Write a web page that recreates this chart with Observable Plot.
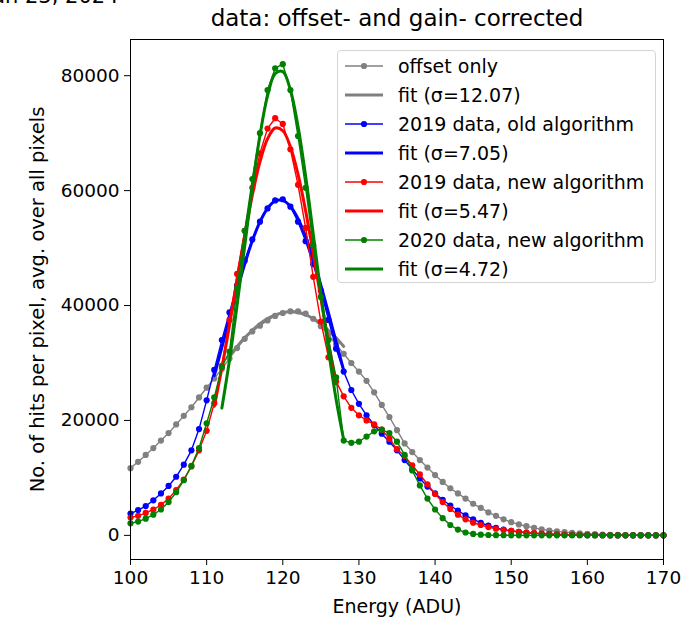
<!DOCTYPE html>
<html><head><meta charset="utf-8">
<script src="https://cdn.jsdelivr.net/npm/d3@7"></script>
<script src="https://cdn.jsdelivr.net/npm/@observablehq/plot@0.6"></script>
<style>
body{margin:0;background:#fff;}
#wrap{position:relative;width:697px;height:621px;overflow:hidden;font-family:"DejaVu Sans",sans-serif;}
#legend{position:absolute;left:337px;top:50px;width:319px;height:233px;box-sizing:border-box;border:1px solid #d5d5d5;border-radius:4px;background:rgba(255,255,255,0.8);}
.row{display:flex;align-items:center;height:29px;}
.row svg{margin-left:7px;flex:none;}
.row span{margin-left:15px;font-size:19px;color:#000;white-space:nowrap;}
</style></head><body><div id="wrap"></div>
<script>
const energy = [100,101,102,103,104,105,106,107,108,109,110,111,112,113,114,115,116,117,118,119,120,121,122,123,124,125,126,127,128,129,130,131,132,133,134,135,136,137,138,139,140,141,142,143,144,145,146,147,148,149,150,151,152,153,154,155,156,157,158,159,160,161,162,163,164,165,166,167,168,169,170];

const offsetOnly = [11700,12800,14000,15200,16500,17800,19300,20800,22300,24000,25700,27300,29000,30800,32600,34200,35500,36500,37400,38200,38700,39000,39000,38600,37700,36400,34900,33200,31600,30000,28500,26900,24900,22700,20600,18300,16000,14500,13100,11800,10500,9300,8200,7300,6400,5500,4800,4000,3400,2800,2300,1900,1600,1300,1050,850,700,560,450,350,270,200,150,110,80,60,40,30,20,10,10];

const old2019 = [3800,4400,5100,6100,7300,8600,10200,12300,14800,18500,23500,28800,34000,38800,43500,47800,51500,54600,56900,58300,58500,57200,54600,51200,47200,42600,37500,32500,28500,25300,22900,20900,19200,17700,16300,14800,13100,11500,9900,8500,7300,6200,5200,4300,3500,2800,2200,1700,1300,1000,780,600,460,350,270,200,150,110,80,60,40,30,20,10,10,0,0,0,0,0,0];

const new2019 = [3100,3400,3900,4500,5300,6400,7900,9700,12000,14800,18200,23000,29500,37500,45500,53000,60500,66500,70800,72600,71600,67200,61000,53500,45000,37200,31000,26800,24200,22200,20900,20000,19300,18400,16800,15000,13800,12200,10600,8900,7200,5800,4600,3600,2800,2200,1800,1450,1150,950,780,620,500,400,310,240,180,130,100,70,50,30,20,10,10,0,0,0,0,0,0];

const new2020 = [2100,2400,2900,3600,4500,5800,7500,9600,12100,15200,19500,24000,29300,32000,43000,53000,62000,70000,77500,81300,82000,77500,69500,60500,50500,41500,34000,27500,16500,16100,16300,17200,18100,18400,17800,16300,14000,11300,8700,6400,4500,3000,1800,1000,500,250,120,60,30,20,10,0,0,0,0,0,0,0,0,0,0,0,0,0,0,0,0,0,0,0,0];

const fitGrayE = [113,114,115,116,117,118,119,120,121,122,123,124,125,126,127,128];
const fitGray = [31230,32880,34380,35700,36820,37720,38370,38770,38900,38770,38370,37720,36820,35700,34380,32880];

const fitBlueE = [111,112,113,114,115,116,117,118,119,120,121,122,123,124,125,126,127,128];
const fitBlue = [27800,32700,37700,42600,47200,51260,54560,56900,58200,58300,57260,55100,52000,48060,43560,38700,33700,28700];

const fitRedE = [111,112,113,114,115,116,117,118,119,120,121,122,123,124,125,126,127];
const fitRed = [22460,29140,36570,44400,52130,59190,64990,69020,70890,70420,67650,62860,56480,49090,41260,33530,26360];

const fitGreenE = [112,113,114,115,116,117,118,119,120,121,122,123,124,125,126,127,128];
const fitGreen = [22160,30470,40070,50370,60560,69600,76480,80350,80710,77510,71180,62490,52460,42100,32310,23700,16630];

const xTicks = [100,110,120,130,140,150,160,170];
const yTicks = [0,20000,40000,60000,80000];

const series = [
  {label:"offset only", fitLabel:"fit (σ=12.07)", color:"#808080", data:offsetOnly, fitE:fitGrayE, fit:fitGray},
  {label:"2019 data, old algorithm", fitLabel:"fit (σ=7.05)", color:"#0000ff", data:old2019, fitE:fitBlueE, fit:fitBlue},
  {label:"2019 data, new algorithm", fitLabel:"fit (σ=5.47)", color:"#ff0000", data:new2019, fitE:fitRedE, fit:fitRed},
  {label:"2020 data, new algorithm", fitLabel:"fit (σ=4.72)", color:"#008000", data:new2020, fitE:fitGreenE, fit:fitGreen}
];

const dataMarks = [];
for (const s of series) {
  const pts = energy.map((e, i) => ({e, v: s.data[i]}));
  dataMarks.push(Plot.line(pts, {x:"e", y:"v", stroke:s.color, strokeWidth:1.4}));
  dataMarks.push(Plot.dot(pts, {x:"e", y:"v", fill:s.color, r:3.1}));
  const fp = s.fitE.map((e, i) => ({e, v: s.fit[i]}));
  dataMarks.push(Plot.line(fp, {x:"e", y:"v", stroke:s.color, strokeWidth:3, curve:"catmull-rom"}));
}

const chart = Plot.plot({
  width:697, height:621,
  marginLeft:130, marginRight:34, marginTop:39, marginBottom:62,
  style:{fontFamily:"DejaVu Sans", fontSize:"18.5px", color:"#000", background:"#fff", overflow:"visible"},
  x:{domain:[100,170]},
  y:{domain:[-4200,86300]},
  marks:[
    Plot.axisX({ticks:xTicks, tickFormat:d => String(d), tickSize:6, tickPadding:5, label:null}),
    Plot.axisY({ticks:yTicks, tickFormat:d => String(d), tickSize:6, tickPadding:5, label:null}),
    ...dataMarks,
    Plot.frame({stroke:"#000", strokeWidth:1}),
    Plot.text(["data: offset- and gain- corrected"], {frameAnchor:"top", dy:-21, textAnchor:"middle", lineAnchor:"middle", fontSize:23}),
    Plot.text(["Energy (ADU)"], {frameAnchor:"bottom", dy:47, textAnchor:"middle", lineAnchor:"middle", fontSize:19}),
    Plot.text(["No. of hits per pixel, avg. over all pixels"], {frameAnchor:"left", dx:-93, rotate:-90, textAnchor:"middle", lineAnchor:"middle", fontSize:19.5}),
    Plot.text(["Jun 23, 2024"], {frameAnchor:"top-left", dx:-12, dy:-37, textAnchor:"end", lineAnchor:"bottom", fontSize:21})
  ]
});

const wrap = document.getElementById("wrap");
wrap.appendChild(chart);

const legend = document.createElement("div");
legend.id = "legend";
for (const s of series) {
  for (const kind of ["data", "fit"]) {
    const row = document.createElement("div");
    row.className = "row";
    const svg = d3.create("svg").attr("width", 38).attr("height", 10);
    svg.append("line").attr("x1", 0).attr("x2", 38).attr("y1", 5).attr("y2", 5)
      .attr("stroke", s.color).attr("stroke-width", kind === "data" ? 1.4 : 3);
    if (kind === "data") svg.append("circle").attr("cx", 19).attr("cy", 5).attr("r", 3.1).attr("fill", s.color);
    row.appendChild(svg.node());
    const sp = document.createElement("span");
    sp.textContent = kind === "data" ? s.label : s.fitLabel;
    row.appendChild(sp);
    legend.appendChild(row);
  }
}
wrap.appendChild(legend);
</script></body></html>
